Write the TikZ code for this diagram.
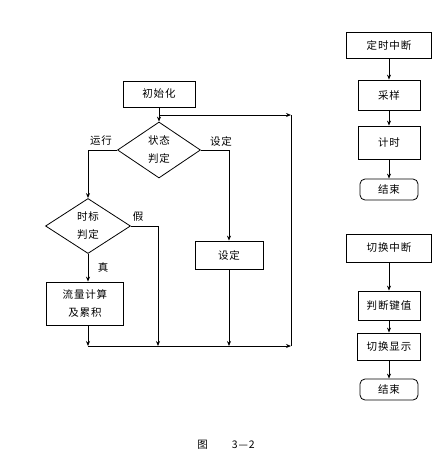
\documentclass[tikz,border=0pt]{standalone}
\usepackage{fontspec}
\usetikzlibrary{shapes.geometric,arrows.meta}
\newfontfamily\cjk[LetterSpace=8]{Noto Sans CJK SC}
\begin{document}
\begin{tikzpicture}[x=1pt,y=-1pt,
  font=\cjk\fontsize{10.5}{18}\selectfont,
  line width=0.8pt,
  box/.style={draw, inner sep=0pt, align=center},
  dia/.style={draw, diamond, inner sep=0pt, align=center},
  term/.style={draw, rounded corners=5pt, inner sep=0pt, align=center},
  arr/.style={-{Stealth[length=5pt,width=4pt]}},
  lbl/.style={inner sep=0pt}]
\useasboundingbox (0,0) rectangle (440,461);

% ---------- main flow ----------
\node[box, minimum width=72pt, minimum height=26pt] (init) at (159,94) {初始化};
\node[dia, minimum width=83pt, minimum height=56pt] (st) at (159,150) {状态\\判定};
\coordinate (j) at (159,115);
\node[lbl] (run) at (101,141) {运行};
\node[lbl] (setl) at (221,141) {设定};
\node[dia, minimum width=85pt, minimum height=55pt] (tm) at (88,226) {时标\\判定};
\node[lbl] (fl) at (138,217) {假};
\node[lbl] (tr) at (103,267) {真};
\node[box, minimum width=77pt, minimum height=43pt] (calc) at (85,303.5) {流量计算\\及累积};
\node[box, minimum width=68pt, minimum height=28pt] (set) at (229,255) {设定};
\coordinate (b1) at (88,346);
\coordinate (b2) at (158,346);
\coordinate (b3) at (229,346);
\coordinate (br) at (291,346);
\coordinate (tc) at (291,115);

\draw[arr] (init) -- (st.north);
\draw[arr] (st.west) -| (tm.north);
\draw[arr] (st.east) -| (set.north);
\draw[arr] (tm.east) -| (b2);
\draw[arr] (tm.south) -- (tm.south |- calc.north);
\draw[arr] (calc.south -| b1) -- (b1);
\draw[arr] (set.south) -- (b3);
\draw[arr] (b1) -- (br);
\draw (br) -- (tc);
\draw[arr] (j) -- (tc);

% ---------- timer interrupt ----------
\node[box, minimum width=85pt, minimum height=26pt] (ti) at (389,45) {定时中断};
\node[box, minimum width=62pt, minimum height=30pt] (cy) at (389,95) {采样};
\node[box, minimum width=62pt, minimum height=33pt] (js) at (389,142.5) {计时};
\node[term, minimum width=58pt, minimum height=21pt] (e1) at (389,189.5) {结束};
\draw[arr] (ti) -- (cy);
\draw[arr] (cy) -- (js);
\draw[arr] (js) -- (e1);

% ---------- switch interrupt ----------
\node[box, minimum width=85pt, minimum height=28pt] (qh) at (389,248) {切换中断};
\node[box, minimum width=62pt, minimum height=29pt] (pd) at (389,305.5) {判断键值};
\node[box, minimum width=63pt, minimum height=27pt] (xs) at (389,346.5) {切换显示};
\node[term, minimum width=58pt, minimum height=21pt] (e2) at (389,389.5) {结束};
\draw[arr] (qh) -- (pd);
\draw[arr] (pd) -- (xs);
\draw[arr] (xs) -- (e2);

% ---------- caption ----------
\node (cap) at (226,445) {图\hspace{2.3em}3—2};
\end{tikzpicture}
\end{document}
